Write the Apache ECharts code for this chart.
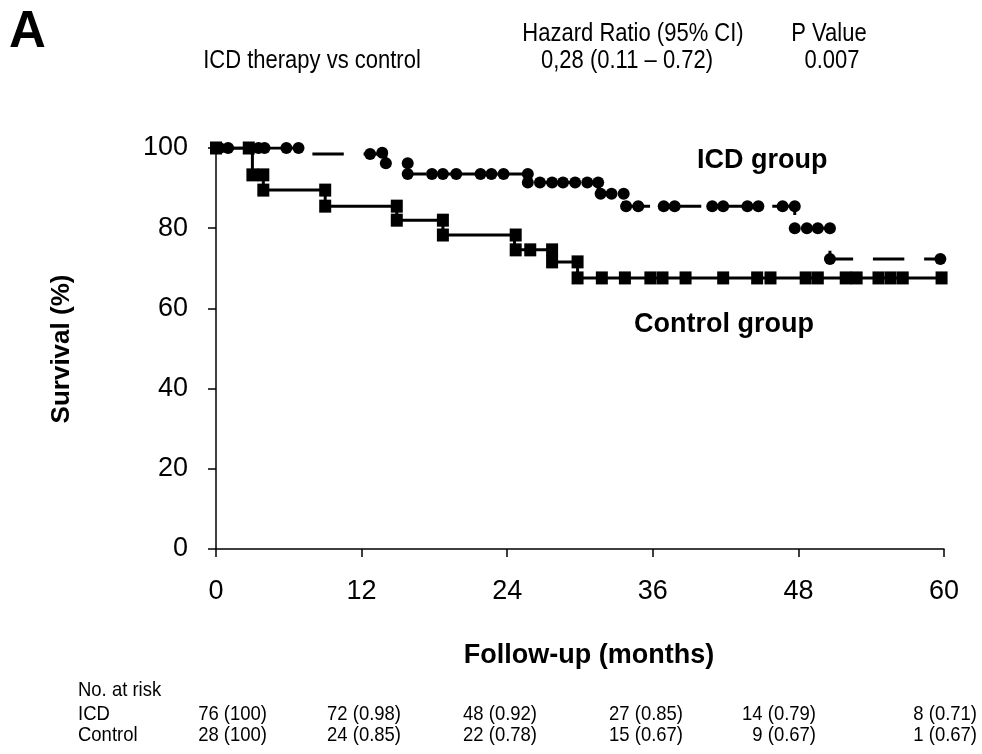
<!DOCTYPE html>
<html>
<head>
<meta charset="utf-8">
<title>Kaplan-Meier survival: ICD vs control</title>
<script src="https://cdn.jsdelivr.net/npm/echarts@6/dist/echarts.min.js"></script>
<style>
  html, body { margin: 0; padding: 0; background: #fff; }
  #chart { width: 982px; height: 754px; }
</style>
</head>
<body>
<div id="chart"></div>
<script>
// Kaplan-Meier step points [month, survival %]
const icdSteps = [[0, 100], [6.8, 98.5], [14.0, 96.2], [15.8, 93.5], [25.7, 91.4], [31.5, 88.6], [33.6, 85.5], [47.7, 80.0], [50.6, 72.3], [59.7, 72.3]];
const controlSteps = [[0, 100], [3.0, 93.3], [3.9, 89.5], [9.0, 85.5], [14.9, 82.0], [18.7, 78.3], [24.6, 74.6], [27.5, 71.6], [29.8, 67.6], [59.8, 67.6]];

// Censoring marks [month, survival %]
const icdCensored = [
  [0.3, 100], [1.0, 100], [3.5, 100], [4.0, 100], [5.8, 100], [6.8, 100],
  [12.7, 98.5], [13.7, 98.8], [14.0, 96.2], [15.8, 96.2],
  [15.8, 93.5], [17.8, 93.5], [18.7, 93.5], [19.8, 93.5], [21.8, 93.5], [22.7, 93.5], [23.7, 93.5], [25.7, 93.5],
  [25.7, 91.4], [26.7, 91.4], [27.7, 91.4], [28.6, 91.4], [29.6, 91.4], [30.6, 91.4], [31.5, 91.4],
  [31.7, 88.6], [32.6, 88.6], [33.6, 88.6],
  [33.8, 85.5], [34.8, 85.5], [36.9, 85.5], [37.8, 85.5], [40.9, 85.5], [41.8, 85.5], [43.8, 85.5], [44.7, 85.5], [46.7, 85.5], [47.7, 85.5],
  [47.7, 80.0], [48.7, 80.0], [49.6, 80.0], [50.6, 80.0],
  [50.6, 72.3], [59.7, 72.3]
];
const controlCensored = [
  [0, 100], [2.7, 100],
  [3.0, 93.3], [3.9, 93.3], [3.9, 89.5], [9.0, 89.5], [9.0, 85.5],
  [14.9, 85.5], [14.9, 82.0], [18.7, 82.0], [18.7, 78.3],
  [24.7, 78.3], [24.7, 74.6], [25.9, 74.6], [27.7, 74.6], [27.7, 71.6],
  [29.8, 71.6], [29.8, 67.6], [31.8, 67.6], [33.7, 67.6], [35.8, 67.6], [36.8, 67.6],
  [38.7, 67.6], [41.8, 67.6], [44.6, 67.6], [45.7, 67.6], [48.6, 67.6], [49.6, 67.6],
  [51.9, 67.6], [52.8, 67.6], [54.6, 67.6], [55.6, 67.6], [56.6, 67.6], [59.8, 67.6]
];

// Axis ticks
const xTicks = [0, 12, 24, 36, 48, 60];
const yTicks = [0, 20, 40, 60, 80, 100];

// Numbers at risk table
const riskRowNames = ['ICD', 'Control'];
const icdAtRisk = ['76 (100)', '72 (0.98)', '48 (0.92)', '27 (0.85)', '14 (0.79)', '8 (0.71)'];
const controlAtRisk = ['28 (100)', '24 (0.85)', '22 (0.78)', '15 (0.67)', '9 (0.67)', '1 (0.67)'];

// Header
const headerCols = ['Hazard Ratio (95% CI)', 'P Value'];
const comparison = 'ICD therapy vs control';
const hazardRatio = '0,28 (0.11 \u2013 0.72)';
const pValue = '0.007';

const FONT = '"Liberation Sans", Arial, sans-serif';
const NARROW_SCALE = 0.88; // condensed look for header and table text

const chart = echarts.init(document.getElementById('chart'), null, { renderer: 'canvas' });

function txt(text, x, y, opts) {
  return {
    type: 'text', x: x, y: y, rotation: opts.rotation || 0,
    scaleX: opts.narrow ? NARROW_SCALE : 1,
    style: {
      text: text,
      fill: '#000',
      font: (opts.bold ? 'bold ' : '') + opts.size + 'px ' + FONT,
      textAlign: opts.align || 'left',
      textVerticalAlign: 'middle'
    }
  };
}

const colRight = [267, 401, 537, 683, 816, 977];
const graphics = [
  txt('A', 9, 33, { size: 51, bold: true }),
  txt(headerCols[0], 633, 34, { size: 25, narrow: true, align: 'center' }),
  txt(headerCols[1], 829, 34, { size: 25, narrow: true, align: 'center' }),
  txt(comparison, 312, 61, { size: 25, narrow: true, align: 'center' }),
  txt(hazardRatio, 627, 61, { size: 25, narrow: true, align: 'center' }),
  txt(pValue, 832, 61, { size: 25, narrow: true, align: 'center' }),
  txt('Survival (%)', 62, 349, { size: 26, bold: true, align: 'center', rotation: Math.PI / 2 }),
  txt('Follow-up (months)', 589, 656, { size: 27, bold: true, align: 'center' }),
  txt('ICD group', 697, 161, { size: 27, bold: true }),
  txt('Control group', 634, 325, { size: 27, bold: true }),
  txt('No. at risk', 78, 690, { size: 21, narrow: true }),
  txt(riskRowNames[0], 78, 714, { size: 21, narrow: true }),
  txt(riskRowNames[1], 78, 735, { size: 21, narrow: true })
];
icdAtRisk.forEach((t, i) => graphics.push(txt(t, colRight[i], 714, { size: 21, narrow: true, align: 'right' })));
controlAtRisk.forEach((t, i) => graphics.push(txt(t, colRight[i], 735, { size: 21, narrow: true, align: 'right' })));

const axisText = { color: '#000', fontFamily: FONT, fontSize: 27 };

chart.setOption({
  animation: false,
  backgroundColor: '#fff',
  grid: { left: 216, right: 38, top: 148, bottom: 205, containLabel: false },
  xAxis: {
    type: 'value', min: xTicks[0], max: xTicks[xTicks.length - 1], interval: 12,
    axisLine: { show: true, onZero: false, lineStyle: { color: '#000', width: 1.5 } },
    axisTick: { show: true, length: 8, lineStyle: { color: '#000', width: 1.5 } },
    axisLabel: Object.assign({ margin: 29 }, axisText),
    splitLine: { show: false }
  },
  yAxis: {
    type: 'value', min: yTicks[0], max: yTicks[yTicks.length - 1], interval: 20,
    axisLine: { show: true, lineStyle: { color: '#000', width: 1.5 } },
    axisTick: { show: true, length: 8, lineStyle: { color: '#000', width: 1.5 } },
    axisLabel: Object.assign({ margin: 28 }, axisText),
    splitLine: { show: false }
  },
  graphic: graphics,
  series: [
    {
      name: 'ICD group', type: 'line', step: 'end', data: icdSteps, showSymbol: false,
      lineStyle: { color: '#000', width: 3, type: [31.4, 19.8] }, z: 2
    },
    {
      name: 'Control group', type: 'line', step: 'end', data: controlSteps, showSymbol: false,
      lineStyle: { color: '#000', width: 3 }, z: 2
    },
    {
      name: 'ICD censored', type: 'scatter', data: icdCensored, symbol: 'circle', symbolSize: 12,
      itemStyle: { color: '#000', opacity: 1 }, z: 3
    },
    {
      name: 'Control censored', type: 'scatter', data: controlCensored, symbol: 'rect', symbolSize: [12, 13],
      itemStyle: { color: '#000', opacity: 1 }, z: 3
    }
  ]
});
</script>
</body>
</html>
